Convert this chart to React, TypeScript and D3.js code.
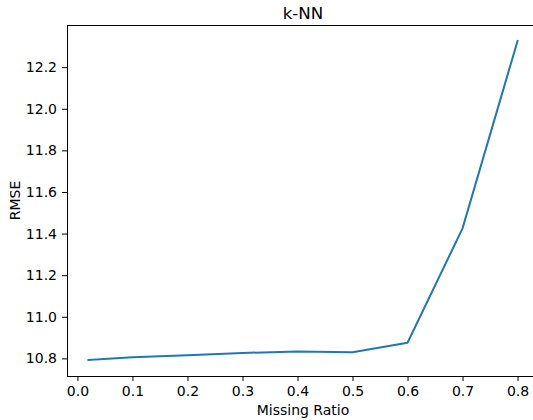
import React, { useEffect, useRef } from 'react';
import * as d3 from 'd3';

// Missing ratio vs RMSE for k-NN imputation
const ratios = [0.02, 0.1, 0.2, 0.3, 0.4, 0.5, 0.6, 0.7, 0.8];
const rmse = [10.792, 10.805, 10.815, 10.826, 10.833, 10.830, 10.875, 11.425, 12.326];
const xTicks = [0.0, 0.1, 0.2, 0.3, 0.4, 0.5, 0.6, 0.7, 0.8];
const yTicks = [10.8, 11.0, 11.2, 11.4, 11.6, 11.8, 12.0, 12.2];

const App = () => {
  const svgRef = useRef<SVGSVGElement>(null);

  useEffect(() => {
    const svg = d3.select(svgRef.current);
    svg.selectAll('*').remove();

    const width = 533;
    const height = 420;
    const margin = { top: 25, right: -6, bottom: 44, left: 67 };
    const font = 'DejaVu Sans, sans-serif';

    // matplotlib-style 5% padding around the data
    const pad = (lo: number, hi: number) => {
      const m = (hi - lo) * 0.05;
      return [lo - m, hi + m];
    };

    const x = d3.scaleLinear()
      .domain(pad(d3.min(ratios)!, d3.max(ratios)!))
      .range([margin.left, width - margin.right]);

    const y = d3.scaleLinear()
      .domain(pad(d3.min(rmse)!, d3.max(rmse)!))
      .range([height - margin.bottom, margin.top]);

    const line = d3.line<number>()
      .x((d, i) => x(ratios[i]))
      .y(d => y(d));

    svg.append('path')
      .datum(rmse)
      .attr('fill', 'none')
      .attr('stroke', '#1f77b4')
      .attr('stroke-width', 2)
      .attr('stroke-linejoin', 'round')
      .attr('stroke-linecap', 'square')
      .attr('d', line);

    // Axes
    const xAxis = svg.append('g')
      .attr('transform', `translate(0,${height - margin.bottom})`)
      .call(d3.axisBottom(x).tickValues(xTicks).tickFormat(d3.format('.1f')).tickSizeOuter(0).tickSize(5).tickPadding(5));

    const yAxis = svg.append('g')
      .attr('transform', `translate(${margin.left},0)`)
      .call(d3.axisLeft(y).tickValues(yTicks).tickFormat(d3.format('.1f')).tickSizeOuter(0).tickSize(5).tickPadding(5));

    [xAxis, yAxis].forEach(a => {
      a.select('.domain').remove();
      a.selectAll('.tick line').attr('stroke', '#000').attr('stroke-width', 1);
      a.selectAll('.tick text').attr('fill', '#000').attr('font-size', '14px').attr('font-family', font);
    });

    // Spines (top, left, bottom; right one falls outside the crop)
    const [x0, x1] = x.range();
    const [y0, y1] = y.range();
    svg.append('path')
      .attr('d', `M${x1},${y1}H${x0}V${y0}H${x1}`)
      .attr('fill', 'none')
      .attr('stroke', '#000')
      .attr('stroke-width', 1)
      .attr('shape-rendering', 'crispEdges');

    // Labels
    svg.append('text')
      .attr('x', (x0 + x1) / 2)
      .attr('y', 19)
      .attr('text-anchor', 'middle')
      .attr('font-size', '16.7px')
      .attr('font-family', font)
      .text('k-NN');

    svg.append('text')
      .attr('x', (x0 + x1) / 2)
      .attr('y', 415)
      .attr('text-anchor', 'middle')
      .attr('font-size', '14px')
      .attr('font-family', font)
      .text('Missing Ratio');

    svg.append('text')
      .attr('transform', `translate(20,${(y0 + y1) / 2}) rotate(-90)`)
      .attr('text-anchor', 'middle')
      .attr('font-size', '14px')
      .attr('font-family', font)
      .text('RMSE');
  }, []);

  return (
    <svg
      ref={svgRef}
      width={533}
      height={420}
      style={{ position: 'absolute', left: 0, top: 0, background: '#fff' }}
    />
  );
};

export default App;
